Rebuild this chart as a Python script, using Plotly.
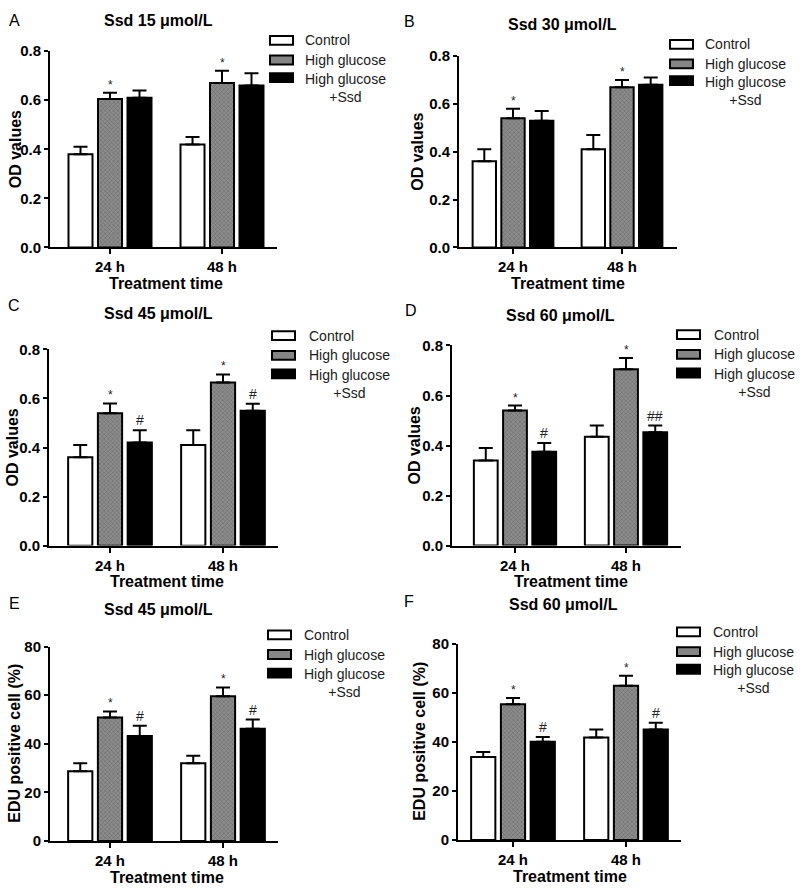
import plotly.graph_objects as go

# ---------------- data ----------------
categories = ["24 h", "48 h"]
group_names = ["Control", "High glucose", "High glucose<br>+Ssd"]
panel_titles = ["Ssd 15 μmol/L", "Ssd 30 μmol/L", "Ssd 45 μmol/L",
                "Ssd 60 μmol/L", "Ssd 45 μmol/L", "Ssd 60 μmol/L"]
panel_letters = ["A", "B", "C", "D", "E", "F"]
y_titles = ["OD values"] * 4 + ["EDU positive cell (%)"] * 2
x_title = "Treatment time"
y_max = [0.8, 0.8, 0.8, 0.8, 80, 80]
y_dtick = [0.2, 0.2, 0.2, 0.2, 20, 20]

a_control = [0.38, 0.42];  a_control_err = [0.03, 0.03]
a_hg = [0.605, 0.67];      a_hg_err = [0.025, 0.05]
a_ssd = [0.61, 0.66];      a_ssd_err = [0.03, 0.05]

b_control = [0.36, 0.41];  b_control_err = [0.05, 0.06]
b_hg = [0.54, 0.67];       b_hg_err = [0.04, 0.03]
b_ssd = [0.53, 0.68];      b_ssd_err = [0.04, 0.03]

c_control = [0.36, 0.41];  c_control_err = [0.05, 0.06]
c_hg = [0.54, 0.665];      c_hg_err = [0.04, 0.033]
c_ssd = [0.42, 0.55];      c_ssd_err = [0.05, 0.028]

d_control = [0.34, 0.435]; d_control_err = [0.05, 0.045]
d_hg = [0.54, 0.705];      d_hg_err = [0.02, 0.045]
d_ssd = [0.375, 0.453];    d_ssd_err = [0.035, 0.027]

e_control = [28.7, 32.0];  e_control_err = [3.3, 3.1]
e_hg = [50.8, 59.6];       e_hg_err = [2.5, 3.6]
e_ssd = [43.2, 46.2];      e_ssd_err = [4.2, 3.8]

f_control = [33.8, 41.8];  f_control_err = [2.1, 3.2]
f_hg = [55.3, 62.9];       f_hg_err = [2.6, 4.0]
f_ssd = [40.0, 45.0];      f_ssd_err = [2.0, 2.8]

hg_marks = [["*", "*"]] * 6
ssd_marks = [["", ""], ["", ""], ["#", "#"], ["#", "##"], ["#", "#"], ["#", "#"]]

panels = [
    (a_control, a_control_err, a_hg, a_hg_err, a_ssd, a_ssd_err),
    (b_control, b_control_err, b_hg, b_hg_err, b_ssd, b_ssd_err),
    (c_control, c_control_err, c_hg, c_hg_err, c_ssd, c_ssd_err),
    (d_control, d_control_err, d_hg, d_hg_err, d_ssd, d_ssd_err),
    (e_control, e_control_err, e_hg, e_hg_err, e_ssd, e_ssd_err),
    (f_control, f_control_err, f_hg, f_hg_err, f_ssd, f_ssd_err),
]

# ---------------- layout geometry (page pixels) ----------------
W, H = 800, 896

geo = [
    dict(left=50, t24=110, t48=222, top=43, bottom=243, title=(158, 12), letter=(7, 12),
         ytx=15, box_x=270, text_x=303, rows=(32, 52, 70)),
    dict(left=459, t24=513, t48=622, top=48, bottom=243, title=(562, 16), letter=(402, 13),
         ytx=418, box_x=670, text_x=703, rows=(36, 56, 73)),
    dict(left=49, t24=110, t48=223, top=347, bottom=547, title=(158, 310), letter=(6, 302),
         ytx=13, box_x=272, text_x=307, rows=(333, 353, 372)),
    dict(left=452, t24=515, t48=626, top=343, bottom=547, title=(560, 312), letter=(403, 307),
         ytx=415, box_x=677, text_x=712, rows=(332, 352, 371)),
    dict(left=50, t24=110, t48=223, top=650, bottom=848, title=(158, 612), letter=(7, 606),
         ytx=15, box_x=268, text_x=302, rows=(638, 658, 677)),
    dict(left=458, t24=513, t48=626, top=647, bottom=847, title=(563, 607), letter=(402, 604),
         ytx=420, box_x=677, text_x=711, rows=(635, 655, 673)),
]

BARGAP = 0.21
BARGROUPGAP = 0.186
stride = (1 - BARGAP) / 3

FONT = "Liberation Sans, Arial, sans-serif"
fills = ["white", "#858585", "black"]


def px(xp):
    return xp / W


def py(yp):
    return 1 - yp / H


fig = go.Figure()
annotations = []
shapes = []

for i, (vals, g) in enumerate(zip(panels, geo)):
    n = "" if i == 0 else str(i + 1)
    xa, ya = "x" + n, "y" + n
    series = [(vals[0], vals[1]), (vals[2], vals[3]), (vals[4], vals[5])]
    for k, (v, e) in enumerate(series):
        marker = dict(color=fills[k], line=dict(color="black", width=2))
        if k == 1:
            marker["pattern"] = dict(shape="x", fgcolor="#666666", bgcolor="#8c8c8c",
                                     size=3, solidity=0.3, fillmode="replace")
        fig.add_trace(go.Bar(
            x=categories, y=v, name=group_names[k], xaxis=xa, yaxis=ya,
            marker=marker, showlegend=False,
            error_y=dict(type="data", array=e, arrayminus=[0] * len(e), symmetric=False,
                         color="black", thickness=2, width=7),
        ))

    unit = g["t48"] - g["t24"]
    right = g["t48"] + 55
    xr = [(g["left"] - g["t24"]) / unit, (right - g["t24"]) / unit]
    fig.layout["xaxis" + n] = dict(
        domain=[px(g["left"]), px(right)], anchor=ya, range=xr, type="category",
        showline=True, linecolor="black", linewidth=2, ticks="outside", ticklen=5,
        tickwidth=2, tickcolor="black", showgrid=False, zeroline=False,
        tickfont=dict(family=FONT, size=15, color="black", weight="bold"),
    )
    fig.layout["yaxis" + n] = dict(
        domain=[py(g["bottom"]), py(g["top"])], anchor=xa, range=[0, y_max[i]],
        dtick=y_dtick[i], tickformat=".1f" if y_max[i] < 1 else "d",
        showline=True, linecolor="black", linewidth=2, ticks="outside", ticklen=4,
        tickwidth=2, tickcolor="black", showgrid=False, zeroline=False,
        tickfont=dict(family=FONT, size=15, color="black", weight="bold"),
    )

    # significance marks
    hgv, hge, ssv, sse = vals[2], vals[3], vals[4], vals[5]
    for j in range(2):
        if hg_marks[i][j]:
            annotations.append(dict(x=j, y=hgv[j] + hge[j], xref=xa, yref=ya, text=hg_marks[i][j],
                                    showarrow=False, yanchor="bottom", yshift=-1,
                                    font=dict(family=FONT, size=12, color="#222")))
        if ssd_marks[i][j]:
            annotations.append(dict(x=j + stride, y=ssv[j] + sse[j], xref=xa, yref=ya,
                                    text=ssd_marks[i][j], showarrow=False, yanchor="bottom",
                                    yshift=0, font=dict(family=FONT, size=14, color="#222")))

    # titles and labels
    tx, ty = g["title"]
    annotations.append(dict(x=px(tx), y=py(ty), xref="paper", yref="paper", text=panel_titles[i],
                            showarrow=False, xanchor="center", yanchor="middle",
                            font=dict(family=FONT, size=16, color="black", weight="bold")))
    lx, ly = g["letter"]
    annotations.append(dict(x=px(lx), y=py(ly), xref="paper", yref="paper", text=panel_letters[i],
                            showarrow=False, xanchor="left", yanchor="middle",
                            font=dict(family=FONT, size=16, color="black")))
    annotations.append(dict(x=px(g["ytx"]), y=py((g["top"] + g["bottom"]) / 2), xref="paper",
                            yref="paper", text=y_titles[i], showarrow=False, textangle=-90,
                            xanchor="center", yanchor="middle",
                            font=dict(family=FONT, size=16, color="black", weight="bold")))
    annotations.append(dict(x=px((g["t24"] + g["t48"]) / 2), y=py(g["bottom"] + 37), xref="paper",
                            yref="paper", text=x_title, showarrow=False, xanchor="center",
                            yanchor="middle",
                            font=dict(family=FONT, size=16, color="black", weight="bold")))

    # legend (drawn)
    for k, ry in enumerate(g["rows"]):
        shapes.append(dict(type="rect", xref="paper", yref="paper",
                           x0=px(g["box_x"]), x1=px(g["box_x"] + 23),
                           y0=py(ry + 4.5), y1=py(ry - 4.5),
                           line=dict(color="black", width=2),
                           fillcolor=fills[k]))
        if k < 2:
            annotations.append(dict(x=px(g["text_x"]), y=py(ry), xref="paper", yref="paper",
                                    text=group_names[k], showarrow=False, xanchor="left",
                                    yanchor="middle",
                                    font=dict(family=FONT, size=14, color="#1a1a1a")))
        else:
            annotations.append(dict(x=px(g["text_x"]), y=py(ry - 9), xref="paper", yref="paper",
                                    text=group_names[k], showarrow=False, xanchor="left",
                                    yanchor="top", align="center",
                                    font=dict(family=FONT, size=14, color="#1a1a1a")))

fig.update_layout(
    width=W, height=H, margin=dict(l=0, r=0, t=0, b=0),
    paper_bgcolor="white", plot_bgcolor="white",
    barmode="group", bargap=BARGAP, bargroupgap=BARGROUPGAP,
    annotations=annotations, shapes=shapes, showlegend=False,
)

fig.write_html("out.html",
               config={"displayModeBar": False},
               post_script="document.body.style.margin='0px';document.body.style.overflow='hidden';")
